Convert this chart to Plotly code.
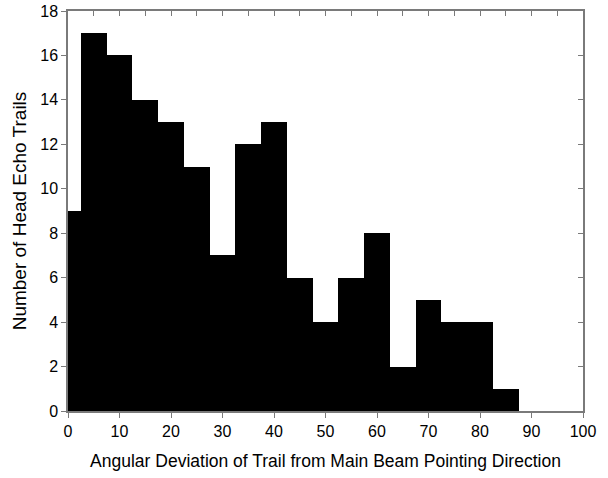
import plotly.graph_objects as go

bin_centers = [0, 5, 10, 15, 20, 25, 30, 35, 40, 45, 50, 55, 60, 65, 70, 75, 80, 85, 90, 95, 100]
counts = [9, 17, 16, 14, 13, 11, 7, 12, 13, 6, 4, 6, 8, 2, 5, 4, 4, 1, 0, 0, 0]
x_ticks = [0, 10, 20, 30, 40, 50, 60, 70, 80, 90, 100]
y_ticks = [0, 2, 4, 6, 8, 10, 12, 14, 16, 18]

FONT = "Arial, Liberation Sans, sans-serif"
AXC = "#7a7a7a"

fig = go.Figure()
fig.add_trace(go.Bar(x=bin_centers, y=counts, width=5,
                     marker=dict(color="black", line=dict(width=0)),
                     showlegend=False, cliponaxis=True))

fig.update_layout(
    width=608, height=478,
    margin=dict(l=68, r=25, t=11, b=67),
    plot_bgcolor="white", paper_bgcolor="white",
    font=dict(family=FONT, size=16, color="black"),
    bargap=0,
    xaxis=dict(range=[0, 100], tickvals=x_ticks, ticks="outside", ticklen=5,
               tickcolor=AXC, showline=True, linecolor=AXC, linewidth=1.5,
               mirror=True, showgrid=False, zeroline=False, automargin=False,
               title=dict(text="Angular Deviation of Trail from Main Beam Pointing Direction",
                          font=dict(size=17.5), standoff=16),
               tickfont=dict(size=16)),
    yaxis=dict(range=[0, 18], tickvals=y_ticks, ticks="outside", ticklen=5,
               tickcolor=AXC, showline=True, linecolor=AXC, linewidth=1.5,
               mirror=True, showgrid=False, zeroline=False, automargin=False,
               title=dict(text="Number of Head Echo Trails", font=dict(size=19), standoff=9),
               tickfont=dict(size=16)),
    xaxis2=dict(range=[0, 100], overlaying="x", side="top", dtick=5, tick0=0,
                ticks="inside", ticklen=5, tickcolor=AXC, showticklabels=False,
                showgrid=False, zeroline=False, showline=False, automargin=False),
    yaxis2=dict(range=[0, 18], overlaying="y", side="right", dtick=2, tick0=0,
                ticks="inside", ticklen=5, tickcolor=AXC, showticklabels=False,
                showgrid=False, zeroline=False, showline=False, automargin=False),
)
# invisible trace to activate the secondary axes for mirrored inner ticks
fig.add_trace(go.Scatter(x=[None], y=[None], xaxis="x2", yaxis="y2",
                         showlegend=False, hoverinfo="skip"))

fig.write_html("out.html", config={"displayModeBar": False},
               post_script="document.body.style.margin='0';document.body.style.overflow='hidden';")
